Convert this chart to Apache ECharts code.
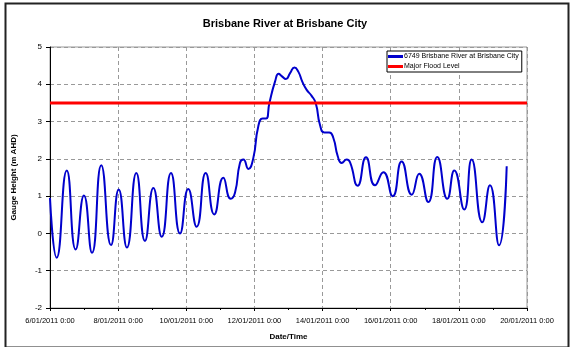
<!DOCTYPE html>
<html>
<head>
<meta charset="utf-8">
<script src="https://cdn.jsdelivr.net/npm/echarts@6/dist/echarts.min.js"></script>
<style>
html,body{margin:0;padding:0;background:#fff;}
#c{width:570px;height:347px;}
</style>
</head>
<body>
<div id="c"></div>
<script>
// ---- data ----
var startTime = '2011-01-06T00:00';
var timeStamps = [
 '2011-01-06T00:00','2011-01-06T04:42','2011-01-06T11:48','2011-01-06T18:06','2011-01-06T23:54',
 '2011-01-07T05:36','2011-01-07T12:06','2011-01-07T19:00','2011-01-08T00:24','2011-01-08T06:12',
 '2011-01-08T12:48','2011-01-08T18:54','2011-01-09T00:48','2011-01-09T06:42','2011-01-09T13:12',
 '2011-01-09T19:36','2011-01-10T01:24','2011-01-10T07:18','2011-01-10T13:42','2011-01-10T19:42',
 '2011-01-11T02:06','2011-01-11T07:18','2011-01-11T10:18','2011-01-11T13:48','2011-01-11T16:12',
 '2011-01-11T19:42','2011-01-11T23:12','2011-01-12T02:42','2011-01-12T05:48','2011-01-12T08:12',
 '2011-01-12T10:30','2011-01-12T14:30','2011-01-12T17:06','2011-01-12T19:12','2011-01-12T22:12',
 '2011-01-13T01:06','2011-01-13T04:12','2011-01-13T06:54','2011-01-13T09:42','2011-01-13T12:48',
 '2011-01-13T16:18','2011-01-13T19:12','2011-01-13T22:12','2011-01-14T01:12','2011-01-14T04:42',
 '2011-01-14T07:36','2011-01-14T10:42','2011-01-14T13:30','2011-01-14T17:00','2011-01-14T19:18',
 '2011-01-15T00:42','2011-01-15T06:36','2011-01-15T12:54','2011-01-15T18:48','2011-01-16T01:24',
 '2011-01-16T07:42','2011-01-16T14:48','2011-01-16T20:06','2011-01-17T02:30','2011-01-17T08:48',
 '2011-01-17T15:54','2011-01-17T20:48','2011-01-18T03:48','2011-01-18T09:00','2011-01-18T16:30',
 '2011-01-18T21:54','2011-01-19T04:18','2011-01-19T09:42'
];
var gaugeHeight = [
 0.95,-0.65,1.69,-0.43,1.02,
 -0.52,1.83,-0.31,1.18,-0.38,
 1.62,-0.20,1.22,-0.09,1.62,
 0.00,1.19,0.18,1.62,0.51,
 1.49,0.93,1.09,1.89,1.98,
 1.73,2.02,2.87,3.08,3.08,
 3.49,4.07,4.28,4.22,4.14,
 4.30,4.45,4.34,4.07,3.85,
 3.69,3.49,2.91,2.71,2.71,
 2.56,2.07,1.89,1.98,1.91,
 1.28,2.04,1.29,1.64,1.00,
 1.93,1.04,1.60,0.84,2.05,
 0.93,1.69,0.64,1.98,0.30,
 1.29,-0.32,1.80
];
var majorFloodLevel = 3.5;
var seriesNames = ['6749 Brisbane River at Brisbane City', 'Major Flood Level'];
var xTickDays = [6, 8, 10, 12, 14, 16, 18, 20];
var yTicks = [-2, -1, 0, 1, 2, 3, 4, 5];

// ---- build ----
var t0 = Date.parse(startTime);
function hoursOf(s){ return (Date.parse(s) - t0) / 3600000; }
var lineData = timeStamps.map(function(s, i){ return [hoursOf(s), gaugeHeight[i]]; });
var xMax = (xTickDays[xTickDays.length-1] - xTickDays[0]) * 24;
var floodData = [[0, majorFloodLevel], [xMax, majorFloodLevel]];

var chart = echarts.init(document.getElementById('c'), null, {renderer:'canvas'});
var font = 'Liberation Sans, Arial, sans-serif';
chart.setOption({
  animation: false,
  backgroundColor: '#fff',
  title: {
    text: 'Brisbane River at Brisbane City',
    left: 'center', top: 13,
    textStyle: {fontFamily: font, fontSize: 11, fontWeight: 'bold', color: '#000'}
  },
  legend: {
    data: [
      {name: seriesNames[0], icon: 'rect', itemStyle: {color: '#0000cc'}},
      {name: seriesNames[1], icon: 'rect', itemStyle: {color: '#ff0000'}}
    ],
    orient: 'vertical',
    left: 387, top: 51,
    itemWidth: 15, itemHeight: 3, itemGap: 3,
    padding: [2, 3, 2, 1],
    borderColor: '#000', borderWidth: 1,
    backgroundColor: '#fff',
    textStyle: {fontFamily: font, fontSize: 7, color: '#000', padding: [0,0,0,-4]}
  },
  grid: {left: 50, right: 43, top: 47, bottom: 39, show: true, borderColor: '#999', borderWidth: 1},
  xAxis: {
    type: 'value', min: 0, max: xMax, interval: 48,
    name: 'Date/Time', nameLocation: 'middle', nameGap: 25,
    nameTextStyle: {fontFamily: font, fontSize: 8, fontWeight: 'bold', color: '#000'},
    axisLine: {show: true, onZero: false, lineStyle: {color: '#000', width: 1}},
    axisTick: {show: true, length: 3, lineStyle: {color: '#000'}},
    minorTick: {show: true, splitNumber: 2, length: 2, lineStyle: {color: '#000'}},
    axisLabel: {
      fontFamily: font, fontSize: 7.5, color: '#000', margin: 9,
      formatter: function(v){ return (xTickDays[0] + v/24) + '/01/2011 0:00'; }
    },
    splitLine: {show: true, lineStyle: {color: '#999', type: [4, 3], width: 1}}
  },
  yAxis: {
    type: 'value', min: yTicks[0], max: yTicks[yTicks.length-1], interval: 1,
    name: 'Gauge Height (m AHD)', nameLocation: 'middle', nameGap: 32,
    nameTextStyle: {fontFamily: font, fontSize: 8, fontWeight: 'bold', color: '#000'},
    axisLine: {show: true, lineStyle: {color: '#000', width: 1}},
    axisTick: {show: true, length: 4, lineStyle: {color: '#000'}},
    axisLabel: {fontFamily: font, fontSize: 8, color: '#000', margin: 8},
    splitLine: {show: true, lineStyle: {color: '#999', type: [4, 3], width: 1}}
  },
  series: [
    {
      name: seriesNames[0], type: 'line', data: lineData,
      smooth: 0.55, showSymbol: false, symbol: 'none',
      lineStyle: {color: '#0000cc', width: 2}, itemStyle: {color: '#0000cc'}, z: 3
    },
    {
      name: seriesNames[1], type: 'line', data: floodData,
      showSymbol: false, symbol: 'none',
      lineStyle: {color: '#ff0000', width: 3}, itemStyle: {color: '#ff0000'}, z: 4
    }
  ],
  graphic: [
    {type: 'rect', left: 3, top: 1, z: 100, silent: true,
     shape: {width: 563, height: 344}, style: {fill: 'none', stroke: '#222', lineWidth: 2}}
  ]
});
</script>
</body>
</html>
